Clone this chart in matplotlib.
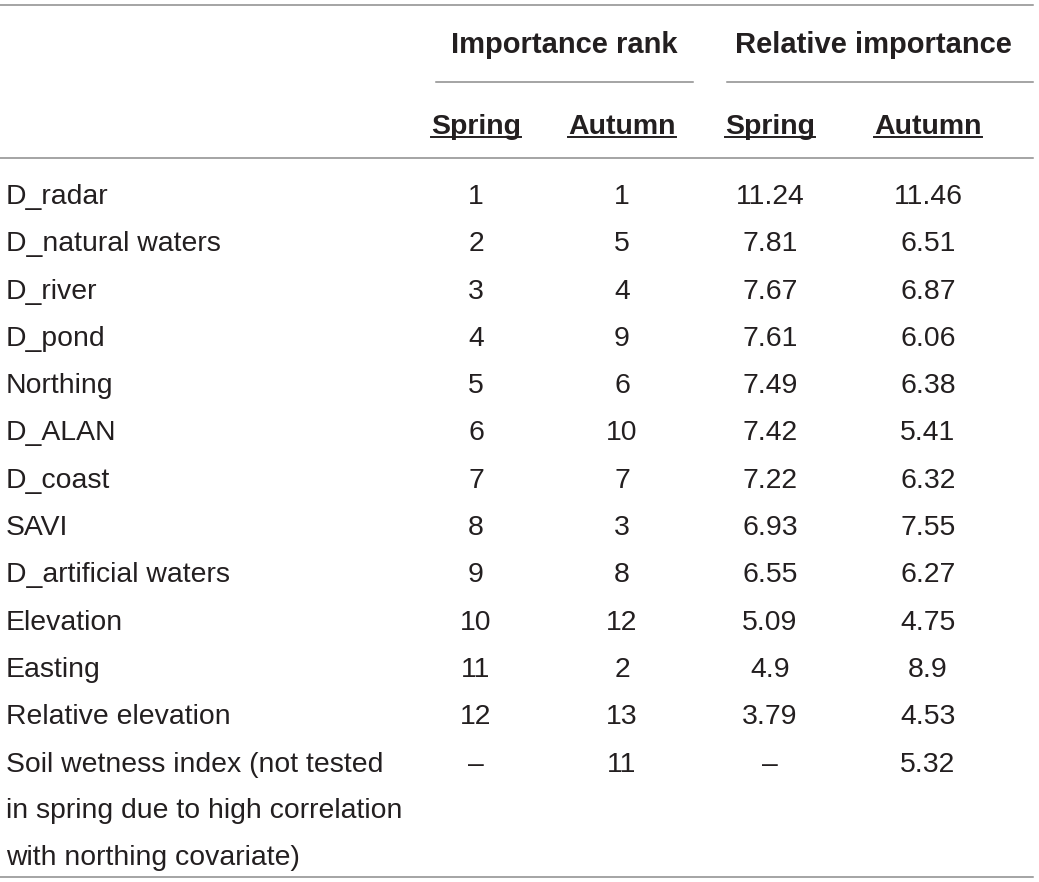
import matplotlib.pyplot as plt

# table contents
covariates = ['D_radar', 'D_natural waters', 'D_river', 'D_pond', 'Northing',
              'D_ALAN', 'D_coast', 'SAVI', 'D_artificial waters', 'Elevation',
              'Easting', 'Relative elevation',
              'Soil wetness index (not tested\nin spring due to high correlation\nwith northing covariate)']
rank_spring = ['1', '2', '3', '4', '5', '6', '7', '8', '9', '10', '11', '12', '\u2013']
rank_autumn = ['1', '5', '4', '9', '6', '10', '7', '3', '8', '12', '2', '13', '11']
rel_spring = ['11.24', '7.81', '7.67', '7.61', '7.49', '7.42', '7.22', '6.93',
              '6.55', '5.09', '4.9', '3.79', '\u2013']
rel_autumn = ['11.46', '6.51', '6.87', '6.06', '6.38', '5.41', '6.32', '7.55',
              '6.27', '4.75', '8.9', '4.53', '5.32']
groups = ['Importance rank', 'Relative importance']
seasons = ['Spring', 'Autumn', 'Spring', 'Autumn']

plt.rcParams['font.family'] = ['Liberation Sans', 'DejaVu Sans']
W, H = 1039, 882
fig = plt.figure(figsize=(W / 100, H / 100), dpi=100)
ax = fig.add_axes([0, 0, 1, 1])
ax.set_xlim(0, W)
ax.set_ylim(H, 0)
ax.axis('off')

fs = 20.4
fs_head = 21
line_col = '#8c8c8c'
txt_col = '#231f20'
col_x = [476, 622, 770, 928]

# rules
ax.plot([0, 1033], [5, 5], color=line_col, lw=1.1)
ax.plot([436, 693], [82, 82], color=line_col, lw=1.1)
ax.plot([727, 1033], [82, 82], color=line_col, lw=1.1)
ax.plot([0, 1033], [158, 158], color=line_col, lw=1.1)
ax.plot([0, 1033], [877, 877], color=line_col, lw=1.1)

# group headers
for g, x in zip(groups, [564, 873]):
    ax.text(x, 42, g, fontsize=fs_head, fontweight='bold', ha='center', va='center_baseline',
            color=txt_col)

# season headers, underlined
season_txt = []
for s, x in zip(seasons, col_x):
    t = ax.text(x, 124, s, fontsize=20.5, fontweight='bold', ha='center',
                va='center_baseline', color=txt_col)
    season_txt.append(t)

fig.canvas.draw()
r = fig.canvas.get_renderer()
for t in season_txt:
    bb = t.get_window_extent(renderer=r)
    ax.plot([bb.x0, bb.x1], [137, 137], color=txt_col, lw=1.4)

# body rows
y0, dy, dline = 194, 47.3, 46.5
for i, name in enumerate(covariates):
    y = y0 + i * dy
    for k, part in enumerate(name.split('\n')):
        ax.text(6, y + k * dline, part, fontsize=fs, ha='left', va='center_baseline',
                color=txt_col)
    for vals, x in zip([rank_spring, rank_autumn, rel_spring, rel_autumn], col_x):
        ax.text(x, y, vals[i], fontsize=fs, ha='center', va='center_baseline', color=txt_col)

fig.savefig('out.png', dpi=100)
